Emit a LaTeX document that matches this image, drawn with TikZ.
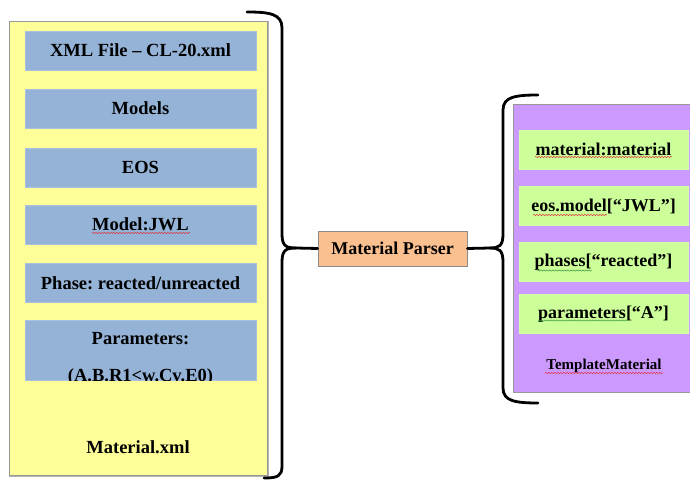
\documentclass[tikz,border=0pt]{standalone}
\usepackage{fontspec}
\setmainfont{Liberation Serif}[BoldFont={Liberation Serif Bold}]
\usetikzlibrary{decorations.pathmorphing}
\definecolor{cyel}{HTML}{FFFF99}
\definecolor{cblue}{HTML}{95B3D7}
\definecolor{corange}{HTML}{FAC090}
\definecolor{cpurple}{HTML}{CC99FF}
\definecolor{cgreen}{HTML}{CCFF99}
\definecolor{cred}{HTML}{E0303A}
\definecolor{cgrn}{HTML}{3C9A3C}
\frenchspacing
\begin{document}
\begin{tikzpicture}[x=1pt,y=-1pt,
  every node/.style={font=\rmfamily\fontsize{18.5}{20}\selectfont\bfseries, text=black, inner sep=0pt},
  bluebox/.style={rectangle, fill=cblue, draw=cblue!80!white, line width=0.6pt, minimum width=231pt, minimum height=39pt},
  greenbox/.style={rectangle, fill=cgreen, draw=cgreen!85!white, line width=0.6pt, minimum width=169pt, minimum height=39pt, font=\rmfamily\fontsize{18}{20}\selectfont\bfseries},
  container/.style={rectangle, draw=gray!80, line width=1pt},
  bracestyle/.style={line width=2.8pt, line cap=round, line join=round, black},
  squig/.style={decorate, decoration={snake, amplitude=0.6pt, segment length=3pt}, line width=0.5pt},
]
\useasboundingbox (0,0) rectangle (690,481);

% left container
\node[container, fill=cyel, minimum width=258pt, minimum height=453pt] (yel) at (138,248.5) {};
\draw[gray!60, line width=1pt] ([xshift=1pt]yel.north east) -- ([xshift=1pt,yshift=-1pt]yel.south east) -- ([yshift=-1pt]yel.south west);
\node[bluebox] (b1) at (140.5,50.5) {XML File – CL-20.xml};
\node[bluebox] (b2) at (140.5,108.5) {Models};
\node[bluebox] (b3) at (140.5,167.5) {EOS};
\node[bluebox] (b4) at (140.5,224.5) {Model:JWL};
\node[bluebox] (b5) at (140.5,283) {Phase: reacted/unreacted};
\node[bluebox, minimum height=60pt] (b6) at (140.5,350) {};
\node (b6a) at (140.5,339) {Parameters:};
\begin{scope}
  \clip (b6.north west) rectangle (b6.south east);
  \node[anchor=base] (b6b) at (140.5,381.5) {(A.B.R1<w.Cv.E0)};
\end{scope}
\node (matxml) at (138,447) {Material.xml};
\draw[squig, cred] (92,233) -- (190,233);

% parser
\node[rectangle, fill=corange, draw=gray!90, line width=0.8pt, minimum width=149pt, minimum height=35pt, font=\rmfamily\fontsize{18}{20}\selectfont\bfseries] (parser) at (392.5,248.5) {Material Parser};

% right container
\node[container, fill=cpurple, minimum width=179pt, minimum height=287pt] (tm) at (602.5,248.5) {};
\node[greenbox] (g1) at (603.5,149.5) {material:material};
\node[greenbox] (g2) at (603.5,206) {eos.model[“JWL”]};
\node[greenbox] (g3) at (603.5,262) {phases[“reacted”]};
\node[greenbox] (g4) at (603.5,314) {parameters[“A”]};
\node[font=\rmfamily\fontsize{15}{17}\selectfont\bfseries] (tmpl) at (604,366) {TemplateMaterial};
\draw[squig, cred] (535,157) -- (672,157);
\draw[squig, cred] (533,215) -- (607,215);
\draw[squig, cgrn] (537,270.5) -- (592,270.5);
\draw[squig, cgrn] (538,320.5) -- (628,320.5);
\draw[squig, cred] (545,373) -- (663,373);

% left brace
\coordinate (ltip) at (296,248);
\draw[bracestyle] (247,12) .. controls (270,12) and (282,14) .. (282,28)
  -- (282,234) .. controls (282,246) and (286,248) .. (ltip);
\draw[bracestyle] (ltip) .. controls (286,248) and (282,250) .. (282,262)
  -- (282,466) .. controls (282,476) and (278,478) .. (264,478);
\draw[bracestyle] (ltip) -- (parser.west);

% right brace
\coordinate (rtip) at (490,248);
\draw[bracestyle] (538,95) .. controls (515,95) and (503,97) .. (503,110)
  -- (503,234) .. controls (503,246) and (499,248) .. (rtip);
\draw[bracestyle] (rtip) .. controls (499,248) and (503,250) .. (503,262)
  -- (503,388) .. controls (503,401) and (515,403) .. (538,403);
\draw[bracestyle] (rtip) -- (parser.east);
\end{tikzpicture}
\end{document}
